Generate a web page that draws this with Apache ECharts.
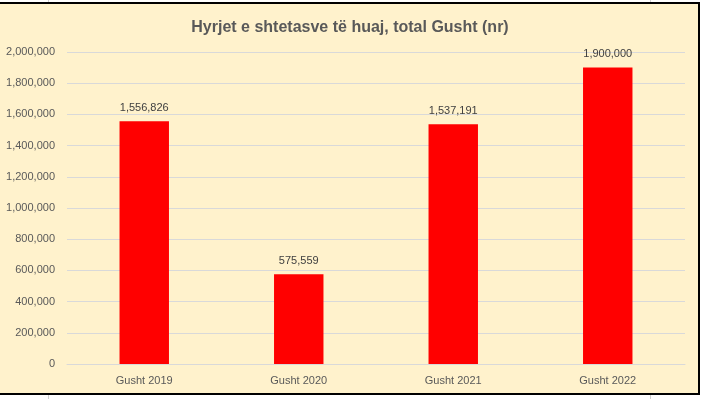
<!DOCTYPE html>
<html><head><meta charset="utf-8">
<script src="https://cdn.jsdelivr.net/npm/echarts@6/dist/echarts.min.js"></script>
<style>
html,body{margin:0;padding:0;background:#fff;width:703px;height:399px;overflow:hidden;}
#frame{position:absolute;left:-2px;top:2px;width:702px;height:393px;border:2px solid #000;box-sizing:border-box;background:#FFF2CC;}
#chart{position:absolute;left:0;top:4px;width:700px;height:390px;}
.cell{position:absolute;width:1px;background:#d0d0d0;}
</style></head>
<body>
<div class="cell" style="left:48px;top:0;height:3px"></div>
<div class="cell" style="left:48px;top:395px;height:4px"></div>
<div class="cell" style="left:650px;top:0;height:3px"></div>
<div class="cell" style="left:650px;top:395px;height:4px"></div>
<div id="frame"></div>
<div id="chart"></div>
<script>
const title = 'Hyrjet e shtetasve të huaj, total Gusht (nr)';
const categories = ['Gusht 2019', 'Gusht 2020', 'Gusht 2021', 'Gusht 2022'];
const values = [1556826, 575559, 1537191, 1900000];
const yMin = 0, yMax = 2000000, yStep = 200000;

const fmt = v => v.toLocaleString('en-US');
const FONT = 'Liberation Sans, sans-serif';
const chart = echarts.init(document.getElementById('chart'), null, {renderer:'canvas'});
chart.setOption({
  backgroundColor: 'transparent',
  animation: false,
  title: {
    text: title, left: 'center', top: 11,
    textStyle: {fontFamily: FONT, fontWeight: 'bold', fontSize: 16, color: '#595959'}
  },
  grid: {left: 67, right: 15, top: 48, bottom: 30, containLabel: false},
  xAxis: {
    type: 'category', data: categories,
    axisLine: {show: true, lineStyle: {color: '#D9D9D9'}},
    axisTick: {show: false},
    axisLabel: {color: '#595959', fontSize: 11, fontFamily: FONT, margin: 11}
  },
  yAxis: {
    type: 'value', min: yMin, max: yMax, interval: yStep,
    axisLine: {show: false}, axisTick: {show: false},
    splitLine: {lineStyle: {color: '#D9D9D9'}},
    axisLabel: {color: '#595959', fontSize: 11, margin: 12, fontFamily: FONT, formatter: v => fmt(v)}
  },
  series: [{
    type: 'bar', data: values, barWidth: '32%',
    itemStyle: {color: '#FF0000'},
    label: {show: true, position: 'top', distance: 8, color: '#404040', fontSize: 11,
      fontFamily: FONT, formatter: p => fmt(p.value)}
  }]
});
</script>
</body></html>
